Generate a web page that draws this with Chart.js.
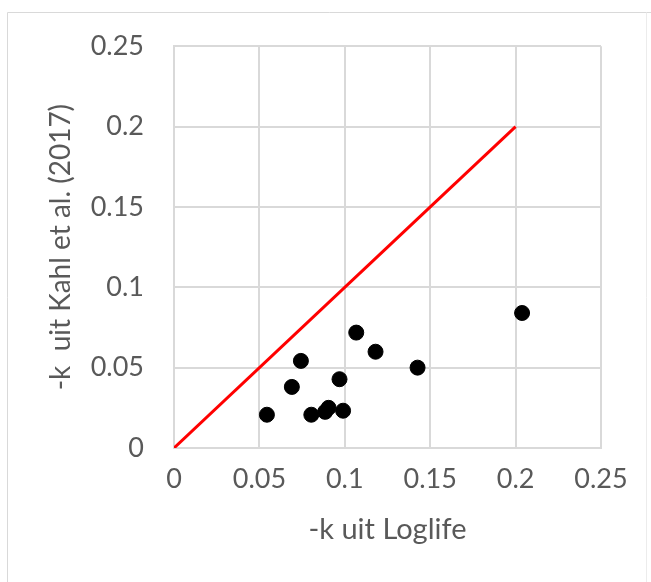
<!DOCTYPE html>
<html>
<head>
<meta charset="utf-8">
<script src="https://cdn.jsdelivr.net/npm/chart.js@4/dist/chart.umd.min.js"></script>
<style>
html, body { margin: 0; padding: 0; background: #fff; }
#wrap { position: relative; width: 651px; height: 582px; }
</style>
</head>
<body>
<div id="wrap"><canvas id="myChart-k"></canvas></div>
<script>
// -k waarden: Loglife (x) tegen Kahl et al. (2017) (y)
var k_loglife = [0.0544, 0.0690, 0.0743, 0.0804, 0.0885, 0.0905, 0.0969, 0.0990, 0.1067, 0.1180, 0.1426, 0.2038];
var k_kahl    = [0.0207, 0.0380, 0.0542, 0.0207, 0.0225, 0.0250, 0.0428, 0.0232, 0.0718, 0.0599, 0.0500, 0.0840];
// lijn y = x
var line_x = [0, 0.2];
var line_y = [0, 0.2];
var axis_ticks = [0, 0.05, 0.1, 0.15, 0.2, 0.25];

var textColor = '#595959';
var gridColor = '#d9d9d9';
var fontFamily = 'Lato, "Open Sans", sans-serif';

function toPoints(xs, ys) {
	var arr = new Array();
	for (var i = 0; i < xs.length; i++) {
		arr.push({ x: xs[i], y: ys[i] });
	}
	return arr;
}

function fmtTick(value) {
	return String(+Number(value).toFixed(2));
}

function fixedTicks(scale) {
	scale.ticks = axis_ticks.map(function(v) { return { value: v }; });
}

// kader rond de grafiek
var framePlugin = {
	id: 'frame',
	beforeDraw: function(chart) {
		var ctx = chart.ctx;
		ctx.save();
		ctx.strokeStyle = '#d9d9d9';
		ctx.lineWidth = 1;
		ctx.beginPath();
		ctx.moveTo(7.5, 700);
		ctx.lineTo(7.5, 12.5);
		ctx.lineTo(651, 12.5);
		ctx.stroke();
		ctx.strokeStyle = '#ececec';
		ctx.beginPath();
		ctx.moveTo(646.5, 12.5);
		ctx.lineTo(646.5, 700);
		ctx.stroke();
		ctx.restore();
	}
};

var config = {
	type: 'scatter',
	data: {
		datasets: [{
			label: 'y = x',
			data: toPoints(line_x, line_y),
			showLine: true,
			borderColor: '#ff0000',
			borderWidth: 3,
			pointRadius: 0,
			fill: false
		}, {
			label: '-k',
			data: toPoints(k_loglife, k_kahl),
			backgroundColor: '#000000',
			borderColor: '#000000',
			pointRadius: 7.5,
			pointHoverRadius: 7.5
		}]
	},
	options: {
		responsive: true,
		maintainAspectRatio: false,
		animation: false,
		layout: {
			padding: { left: 40, top: 45, right: 50, bottom: 31 }
		},
		plugins: {
			legend: { display: false },
			tooltip: { enabled: false }
		},
		scales: {
			x: {
				type: 'linear',
				min: 0,
				max: 0.25,
				afterBuildTicks: fixedTicks,
				afterFit: function(scale) { scale.height = 103; },
				grid: { color: gridColor, lineWidth: 2, drawTicks: false },
				border: { color: gridColor, width: 2 },
				ticks: {
					color: textColor,
					font: { family: fontFamily, size: 27 },
					padding: 15,
					maxRotation: 0,
					callback: fmtTick
				},
				title: {
					display: true,
					text: '-k uit Loglife',
					color: textColor,
					font: { family: fontFamily, size: 29 },
					padding: { top: 4, bottom: 4 }
				}
			},
			y: {
				type: 'linear',
				min: 0,
				max: 0.25,
				afterBuildTicks: fixedTicks,
				afterFit: function(scale) { scale.width = 134; },
				grid: { color: gridColor, lineWidth: 2, drawTicks: false },
				border: { color: gridColor, width: 2 },
				ticks: {
					color: textColor,
					font: { family: fontFamily, size: 27 },
					padding: 30,
					callback: fmtTick
				},
				title: {
					display: true,
					text: '-k  uit Kahl et al. (2017)',
					color: textColor,
					font: { family: fontFamily, size: 28 },
					padding: { top: 4, bottom: 4 }
				}
			}
		}
	},
	plugins: [framePlugin]
};

window.k_chart = new Chart(document.getElementById('myChart-k').getContext('2d'), config);
</script>
</body>
</html>
